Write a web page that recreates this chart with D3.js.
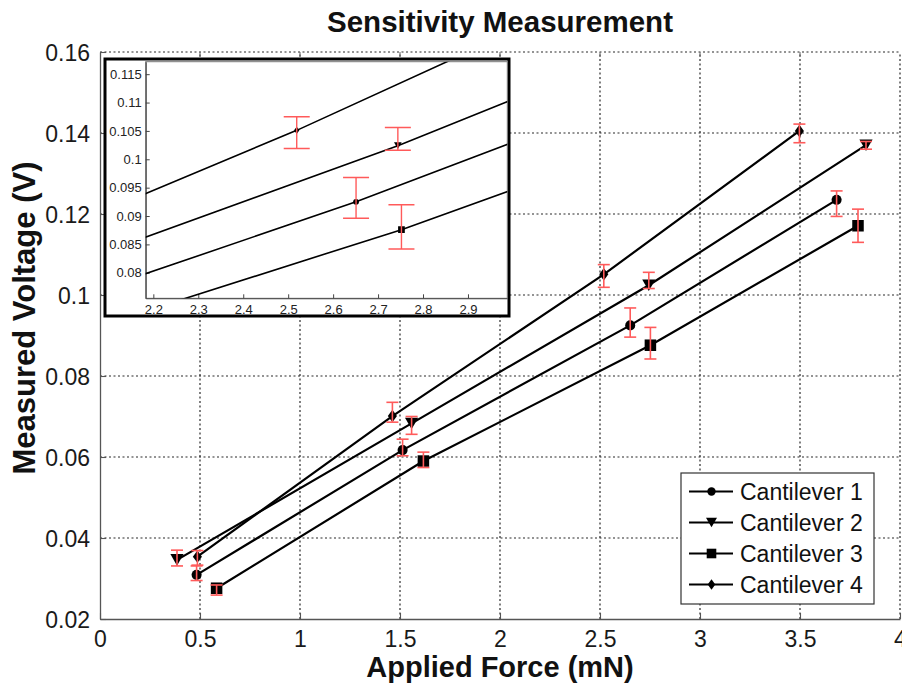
<!DOCTYPE html>
<html>
<head>
<meta charset="utf-8">
<script src="https://cdn.jsdelivr.net/npm/d3@7"></script>
<style>
  body { margin: 0; background: #fff; }
  svg { display: block; }
  text { font-family: Arial, "Liberation Sans", sans-serif; }
</style>
</head>
<body>
<svg id="chart" width="902" height="687"></svg>
<script>
// ---- data ----
const seriesNames = ["Cantilever 1", "Cantilever 2", "Cantilever 3", "Cantilever 4"];
const markerKinds = ["circle", "triangle", "square", "diamond"];

const force1 = [0.483, 1.513, 2.651, 3.683];
const voltage1 = [0.0309, 0.0617, 0.0925, 0.1235];
const errLow1 = [0.0014, 0.0014, 0.0029, 0.0041];
const errHigh1 = [0.0022, 0.0027, 0.0043, 0.0022];

const force2 = [0.385, 1.558, 2.744, 3.83];
const voltage2 = [0.0346, 0.0683, 0.1024, 0.1370];
const errLow2 = [0.0015, 0.0027, 0.0008, 0.0010];
const errHigh2 = [0.0024, 0.0017, 0.0032, 0.0009];

const force3 = [0.583, 1.617, 2.752, 3.79];
const voltage3 = [0.0276, 0.0590, 0.0876, 0.1171];
const errLow3 = [0.0017, 0.0016, 0.0034, 0.0041];
const errHigh3 = [0.0008, 0.0022, 0.0044, 0.0041];

const force4 = [0.487, 1.462, 2.519, 3.497];
const voltage4 = [0.0354, 0.0701, 0.1051, 0.1405];
const errLow4 = [0.0021, 0.0015, 0.0032, 0.0029];
const errHigh4 = [0.0015, 0.0034, 0.0024, 0.0017];

const xTicks = [0, 0.5, 1, 1.5, 2, 2.5, 3, 3.5, 4];
const xTickLabels = ["0", "0.5", "1", "1.5", "2", "2.5", "3", "3.5", "4"];
const yTicks = [0.02, 0.04, 0.06, 0.08, 0.10, 0.12, 0.14, 0.16];
const yTickLabels = ["0.02", "0.04", "0.06", "0.08", "0.1", "0.12", "0.14", "0.16"];

const insetXTicks = [2.2, 2.3, 2.4, 2.5, 2.6, 2.7, 2.8, 2.9];
const insetXTickLabels = ["2.2", "2.3", "2.4", "2.5", "2.6", "2.7", "2.8", "2.9"];
const insetYTicks = [0.08, 0.085, 0.09, 0.095, 0.10, 0.105, 0.11, 0.115];
const insetYTickLabels = ["0.08", "0.085", "0.09", "0.095", "0.1", "0.105", "0.11", "0.115"];

const titleText = "Sensitivity Measurement";
const xLabelText = "Applied Force (mN)";
const yLabelText = "Measured Voltage (V)";

// ---- assemble series ----
const forces = [force1, force2, force3, force4];
const voltages = [voltage1, voltage2, voltage3, voltage4];
const lows = [errLow1, errLow2, errLow3, errLow4];
const highs = [errHigh1, errHigh2, errHigh3, errHigh4];
const series = seriesNames.map((name, i) => ({
  name, kind: markerKinds[i],
  points: forces[i].map((f, j) => ({ x: f, y: voltages[i][j], lo: voltages[i][j] - lows[i][j], hi: voltages[i][j] + highs[i][j] }))
}));

const svg = d3.select("#chart");
svg.append("rect").attr("width", 902).attr("height", 687).attr("fill", "#fff");

const x = d3.scaleLinear().domain([0, 4]).range([100, 900]);
const y = d3.scaleLinear().domain([0.02, 0.16]).range([619, 52]);

const errColor = "#ff5a5a";
const gridColor = "#2a2a2a";

// marker path builders, centred on (0,0)
function markerPath(kind, s) {
  const p = d3.path();
  if (kind === "circle") {
    p.arc(0, 0, s * 0.42, 0, 2 * Math.PI);
  } else if (kind === "square") {
    const h = s * 0.48;
    p.rect(-h, -h, 2 * h, 2 * h);
  } else if (kind === "triangle") {
    const w = s * 0.55, h = s * 0.48;
    p.moveTo(-w, -h); p.lineTo(w, -h); p.lineTo(0, h); p.closePath();
  } else if (kind === "diamond") {
    const w = s * 0.38, h = s * 0.52;
    p.moveTo(0, -h); p.lineTo(w, 0); p.lineTo(0, h); p.lineTo(-w, 0); p.closePath();
  }
  return p.toString();
}

// ---- title ----
svg.append("text").attr("x", 500).attr("y", 32).attr("text-anchor", "middle")
  .attr("font-size", 29.5).attr("font-weight", "bold").attr("fill", "#111").text(titleText);

// ---- grid ----
const grid = svg.append("g");
grid.selectAll("line.gx").data(xTicks.filter(t => t > 0)).join("line")
  .attr("x1", d => x(d)).attr("x2", d => x(d)).attr("y1", y(0.02)).attr("y2", y(0.16))
  .attr("stroke", gridColor).attr("stroke-width", 1.2).attr("stroke-dasharray", "2,2.5");
grid.selectAll("line.gy").data(yTicks.filter(t => t > 0.02)).join("line")
  .attr("y1", d => y(d)).attr("y2", d => y(d)).attr("x1", x(0)).attr("x2", x(4))
  .attr("stroke", gridColor).attr("stroke-width", 1.2).attr("stroke-dasharray", "2,2.5");

// ---- axes ----
const xAxis = d3.axisBottom(x).tickValues(xTicks).tickFormat((d, i) => xTickLabels[i])
  .tickSizeInner(-6).tickSizeOuter(0).tickPadding(12);
const gx = svg.append("g").attr("transform", `translate(0,${y(0.02)})`).call(xAxis);
const yAxis = d3.axisLeft(y).tickValues(yTicks).tickFormat((d, i) => yTickLabels[i])
  .tickSizeInner(-6).tickSizeOuter(0).tickPadding(10);
const gy = svg.append("g").attr("transform", `translate(${x(0)},0)`).call(yAxis);
[gx, gy].forEach(g => {
  g.select(".domain").attr("stroke", "#555").attr("stroke-width", 1.3);
  g.selectAll(".tick line").attr("stroke", "#555").attr("stroke-width", 1.1);
  g.selectAll(".tick text").attr("font-size", 23).attr("fill", "#1a1a1a")
    .attr("font-family", 'Arial, "Liberation Sans", sans-serif');
});
gy.selectAll(".tick text").attr("dy", "0.36em");
// mirrored ticks along the top edge
svg.append("g").selectAll("line").data(xTicks.filter(t => t > 0 && t < 4)).join("line")
  .attr("x1", d => x(d)).attr("x2", d => x(d)).attr("y1", y(0.16)).attr("y2", y(0.16) + 5)
  .attr("stroke", "#666").attr("stroke-width", 1);

// ---- axis labels ----
svg.append("text").attr("x", 500).attr("y", 677).attr("text-anchor", "middle")
  .attr("font-size", 29).attr("font-weight", "bold").attr("fill", "#111").text(xLabelText);
svg.append("text").attr("transform", "translate(35,318) rotate(-90)").attr("text-anchor", "middle")
  .attr("font-size", 31).attr("font-weight", "bold").attr("fill", "#111").text(yLabelText);

// ---- main series ----
const line = d3.line().x(d => x(d.x)).y(d => y(d.y));
const plot = svg.append("g");
series.forEach(s => {
  plot.append("path").attr("d", line(s.points)).attr("fill", "none")
    .attr("stroke", "#000").attr("stroke-width", 2.2);
});
series.forEach(s => {
  plot.selectAll(null).data(s.points).join("path")
    .attr("transform", d => `translate(${x(d.x)},${y(d.y)})`)
    .attr("d", markerPath(s.kind, 12)).attr("fill", "#000");
});
series.forEach(s => {
  const eb = plot.selectAll(null).data(s.points).join("g");
  eb.append("line").attr("x1", d => x(d.x)).attr("x2", d => x(d.x))
    .attr("y1", d => y(d.lo)).attr("y2", d => y(d.hi)).attr("stroke", errColor).attr("stroke-width", 1.6);
  eb.append("line").attr("x1", d => x(d.x) - 6).attr("x2", d => x(d.x) + 6)
    .attr("y1", d => y(d.lo)).attr("y2", d => y(d.lo)).attr("stroke", errColor).attr("stroke-width", 1.6);
  eb.append("line").attr("x1", d => x(d.x) - 6).attr("x2", d => x(d.x) + 6)
    .attr("y1", d => y(d.hi)).attr("y2", d => y(d.hi)).attr("stroke", errColor).attr("stroke-width", 1.6);
});

// ---- legend ----
const lg = svg.append("g");
lg.append("rect").attr("x", 681).attr("y", 473).attr("width", 193).attr("height", 131)
  .attr("fill", "#fff").attr("stroke", "#333").attr("stroke-width", 1.2);
series.forEach((s, i) => {
  const cy = 491.5 + i * 31;
  lg.append("line").attr("x1", 689).attr("x2", 733).attr("y1", cy).attr("y2", cy)
    .attr("stroke", "#000").attr("stroke-width", 2.2);
  lg.append("path").attr("transform", `translate(711.5,${cy})`).attr("d", markerPath(s.kind, 10)).attr("fill", "#000");
  lg.append("text").attr("x", 740).attr("y", cy).attr("dy", "0.36em").attr("font-size", 23)
    .attr("fill", "#111").text(s.name);
});

// ---- inset: zoom on 2.2–2.9 mN ----
const inset = svg.append("g");
inset.append("rect").attr("x", 105).attr("y", 59).attr("width", 404).attr("height", 257)
  .attr("fill", "#fff").attr("stroke", "#000").attr("stroke-width", 3);
const ix = d3.scaleLinear().domain([2.183, 2.9875]).range([145.7, 507.3]);
const iy = d3.scaleLinear().domain([0.0755, 0.1172]).range([298.3, 61.7]);
inset.append("clipPath").attr("id", "insetClip").append("rect")
  .attr("x", 145.7).attr("y", 61.7).attr("width", 507.3 - 145.7).attr("height", 298.3 - 61.7);
inset.append("rect").attr("x", 145.7).attr("y", 61.7).attr("width", 507.3 - 145.7).attr("height", 298.3 - 61.7)
  .attr("fill", "none").attr("stroke", "#777").attr("stroke-width", 1);
const ixAxis = d3.axisBottom(ix).tickValues(insetXTicks).tickFormat((d, i) => insetXTickLabels[i])
  .tickSizeInner(-4).tickSizeOuter(0).tickPadding(6);
const giX = inset.append("g").attr("transform", `translate(0,298.3)`).call(ixAxis);
const iyAxis = d3.axisLeft(iy).tickValues(insetYTicks).tickFormat((d, i) => insetYTickLabels[i])
  .tickSizeInner(-4).tickSizeOuter(0).tickPadding(4);
const giY = inset.append("g").attr("transform", `translate(145.7,0)`).call(iyAxis);
[giX, giY].forEach(g => {
  g.select(".domain").attr("stroke", "#444").attr("stroke-width", 1.1);
  g.selectAll(".tick line").attr("stroke", "#444");
  g.selectAll(".tick text").attr("font-size", 13).attr("fill", "#222")
    .attr("font-family", 'Arial, "Liberation Sans", sans-serif');
});
const iline = d3.line().x(d => ix(d.x)).y(d => iy(d.y));
const ip = inset.append("g").attr("clip-path", "url(#insetClip)");
series.forEach(s => {
  ip.append("path").attr("d", iline(s.points)).attr("fill", "none")
    .attr("stroke", "#000").attr("stroke-width", 1.6);
});
series.forEach(s => {
  ip.selectAll(null).data(s.points).join("path")
    .attr("transform", d => `translate(${ix(d.x)},${iy(d.y)})`)
    .attr("d", markerPath(s.kind, 7)).attr("fill", "#000");
});
series.forEach(s => {
  const eb = ip.selectAll(null).data(s.points).join("g");
  eb.append("line").attr("x1", d => ix(d.x)).attr("x2", d => ix(d.x))
    .attr("y1", d => iy(d.lo)).attr("y2", d => iy(d.hi)).attr("stroke", errColor).attr("stroke-width", 1.4);
  eb.append("line").attr("x1", d => ix(d.x) - 13).attr("x2", d => ix(d.x) + 13)
    .attr("y1", d => iy(d.lo)).attr("y2", d => iy(d.lo)).attr("stroke", errColor).attr("stroke-width", 1.4);
  eb.append("line").attr("x1", d => ix(d.x) - 13).attr("x2", d => ix(d.x) + 13)
    .attr("y1", d => iy(d.hi)).attr("y2", d => iy(d.hi)).attr("stroke", errColor).attr("stroke-width", 1.4);
});
</script>
</body>
</html>
